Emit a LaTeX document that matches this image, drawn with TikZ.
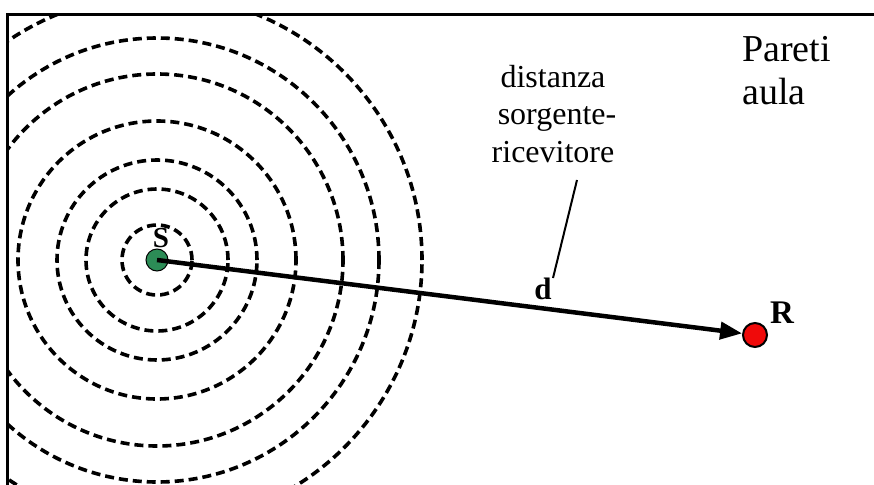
\documentclass[tikz,border=0pt]{standalone}
\usepackage{fontspec}
\setmainfont{Liberation Serif}
\usetikzlibrary{arrows.meta}
\definecolor{srcgreen}{RGB}{44,140,86}
\definecolor{rcvred}{RGB}{240,10,10}
\begin{document}
\begin{tikzpicture}[x=1pt,y=-1pt,
  wave/.style={dash pattern=on 9pt off 5pt, line width=3.6pt},
  frame/.style={line width=3pt},
  lbl/.style={font=\fontsize{29}{32}\selectfont\bfseries, inner sep=0pt},
  txt/.style={inner sep=0pt},
  dot/.style={circle, inner sep=0pt, draw=black}]
\useasboundingbox (0,0) rectangle (874,484);
\begin{scope}
  \clip (7,15) rectangle (874,484);
  \foreach \r in {35,71,100,139,186,222,265}
    \draw[wave] (157,260) circle[radius=\r pt];
\end{scope}
\draw[frame] (7,486) -- (7,15) -- (876,15);
% source and receiver
\node[dot, fill=srcgreen, line width=1pt, minimum size=22pt] (src) at (157,260) {};
\node[dot, fill=rcvred, line width=2pt, minimum size=24pt] (rcv) at (755,335) {};
\draw[line width=4.5pt, -{Triangle[length=22pt,width=17pt]}] (src.center) -- (rcv);
\node[lbl] (slab) at (161,238) {S};
\node[lbl, font=\fontsize{33}{36}\selectfont\bfseries] (rlab) at (782,313) {R};
\node[lbl, font=\fontsize{31}{36}\selectfont\bfseries] (dlab) at (543,289) {d};
% description
\node[txt, font=\fontsize{32}{37.5}\selectfont, align=center, anchor=base] (desc) at (553,162) {distanza\\\ sorgente-\\ricevitore};
\coordinate (la) at (577,180);
\coordinate (lb) at (553,278);
\draw[line width=2pt] (la) -- (lb);
\node[txt, font=\fontsize{38}{43}\selectfont, align=left, anchor=base west] (walls) at (742,105) {Pareti\\aula};
\end{tikzpicture}
\end{document}
